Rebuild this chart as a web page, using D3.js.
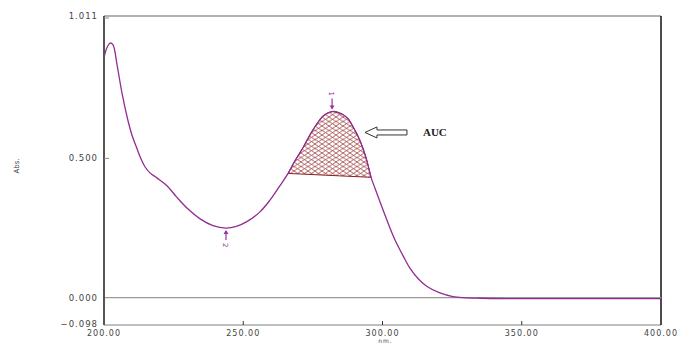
<!DOCTYPE html>
<html>
<head>
<meta charset="utf-8">
<script src="https://cdn.jsdelivr.net/npm/d3@7"></script>
<style>
  body { margin: 0; background: #fff; }
  svg { display: block; }
  .lbl { font-family: "DejaVu Sans", sans-serif; font-size: 8.5px; fill: #444; letter-spacing: 1px; }
</style>
</head>
<body>
<div id="chart"></div>
<script>
// spectrum
var wavelengths = [200, 201, 202.2, 203.2, 204.7, 206.5, 208.6, 210, 211.8, 213, 214.7, 216.5, 219, 222.6, 226.2, 230.2, 234.5, 239.1, 243.8, 247.5, 251.3, 256, 259.6, 263.2, 266.1, 268.5, 271.5, 274, 276.5, 279, 281.9, 284.5, 287.3, 289.5, 291.9, 294, 295.9, 297.3, 300, 302.5, 304.5, 307.4, 309.9, 313, 316, 320.6, 325.3, 329, 335, 345, 360, 380, 400];
var absorbance  = [0.861, 0.896, 0.914, 0.908, 0.835, 0.732, 0.636, 0.585, 0.536, 0.505, 0.470, 0.448, 0.430, 0.402, 0.360, 0.318, 0.283, 0.259, 0.250, 0.256, 0.273, 0.308, 0.350, 0.402, 0.446, 0.490, 0.539, 0.585, 0.625, 0.655, 0.668, 0.663, 0.646, 0.612, 0.564, 0.505, 0.432, 0.393, 0.320, 0.255, 0.207, 0.150, 0.105, 0.066, 0.040, 0.017, 0.004, 0.000, -0.002, -0.003, -0.003, -0.003, -0.003];

var yTicks = [-0.098, 0.000, 0.500, 1.011];
var xTicks = [200, 250, 300, 350, 400];
var aucRange = [266.1, 295.9];
var peakPoints = [{nm: 281.9, label: "1", up: false}, {nm: 243.8, label: "2", up: true}];

var width = 678, height = 343;
var margin = {top: 16, right: 17, bottom: 18, left: 104};

var svg = d3.select("#chart").append("svg")
  .attr("width", width)
  .attr("height", height);

var x = d3.scaleLinear().domain([200, 400]).range([margin.left, width - margin.right]);
var y = d3.scaleLinear().domain([-0.098, 1.011]).range([height - margin.bottom, margin.top]);

var data = wavelengths.map(function(w, i) { return {nm: w, a: absorbance[i]}; });

// hatch pattern
var defs = svg.append("defs");
var pat = defs.append("pattern")
  .attr("id", "hatch")
  .attr("patternUnits", "userSpaceOnUse")
  .attr("width", 7)
  .attr("height", 4.5);
pat.append("path")
  .attr("d", "M0,0 L7,4.5 M0,4.5 L7,0")
  .attr("stroke", "#8b1f1f")
  .attr("stroke-width", 0.7);

// frame
svg.append("line").attr("x1", x(200)).attr("x2", x(400)).attr("y1", y(1.011)).attr("y2", y(1.011))
  .attr("stroke", "#999").attr("stroke-width", 1.5);
svg.append("line").attr("x1", x(200)).attr("x2", x(400)).attr("y1", y(-0.098)).attr("y2", y(-0.098))
  .attr("stroke", "#aaa").attr("stroke-width", 1.5);
svg.append("line").attr("x1", x(400)).attr("x2", x(400)).attr("y1", y(1.011)).attr("y2", y(-0.098))
  .attr("stroke", "#111").attr("stroke-width", 1.5);
// zero line
svg.append("line").attr("x1", x(200)).attr("x2", x(400)).attr("y1", y(0)).attr("y2", y(0))
  .attr("stroke", "#999").attr("stroke-width", 1.3);

// AUC region
function interpA(nm) {
  var i = d3.bisector(function(d) { return d.nm; }).right(data, nm);
  var d0 = data[i - 1], d1 = data[i];
  return d0.a + (d1.a - d0.a) * (nm - d0.nm) / (d1.nm - d0.nm);
}
var area = [{nm: aucRange[0], a: interpA(aucRange[0])}]
  .concat(data.filter(function(d) { return d.nm > aucRange[0] && d.nm < aucRange[1]; }))
  .concat([{nm: aucRange[1], a: interpA(aucRange[1])}]);

var lineGen = d3.line()
  .x(function(d) { return x(d.nm); })
  .y(function(d) { return y(d.a); })
  .curve(d3.curveCatmullRom.alpha(0.5));

svg.append("path")
  .attr("d", lineGen(area) + "Z")
  .attr("fill", "url(#hatch)")
  .attr("stroke", "#8b1f1f")
  .attr("stroke-width", 1);

// spectrum
svg.append("path")
  .datum(data)
  .attr("d", lineGen)
  .attr("fill", "none")
  .attr("stroke", "#912c93")
  .attr("stroke-width", 1.3);

// left axis
svg.append("line").attr("x1", x(200)).attr("x2", x(200)).attr("y1", y(1.011)).attr("y2", y(-0.098))
  .attr("stroke", "#555").attr("stroke-width", 2);

yTicks.forEach(function(t) {
  if (t === 1.011 || t === 0.5) {
    svg.append("line").attr("x1", x(200)).attr("x2", x(200) + 5)
      .attr("y1", y(t) + (t === 1.011 ? 2 : 0)).attr("y2", y(t) + (t === 1.011 ? 2 : 0))
      .attr("stroke", "#888").attr("stroke-width", 1);
  }
  svg.append("text").attr("class", "lbl")
    .attr("x", x(200) - 6).attr("y", y(t) + (t < 0 ? 1.5 : 3))
    .attr("text-anchor", "end")
    .text(d3.format(".3f")(t));
});

xTicks.forEach(function(t) {
  if (t > 200 && t < 400) {
    svg.append("line").attr("x1", x(t)).attr("x2", x(t))
      .attr("y1", y(-0.098)).attr("y2", y(-0.098) - 4)
      .attr("stroke", "#333").attr("stroke-width", 1);
  }
  svg.append("text").attr("class", "lbl")
    .attr("x", x(t)).attr("y", 335.5)
    .attr("text-anchor", "middle")
    .style("font-size", "8px")
    .text(d3.format(".2f")(t));
});

svg.append("text").attr("class", "lbl")
  .attr("x", x(300) + 3).attr("y", 343)
  .attr("text-anchor", "middle")
  .style("font-size", "6px")
  .text("nm.");

svg.append("text").attr("class", "lbl")
  .attr("transform", "translate(19,166) rotate(-90)")
  .attr("text-anchor", "middle")
  .style("font-size", "7px")
  .style("letter-spacing", "0px")
  .text("Abs.");

// peak / valley markers
peakPoints.forEach(function(p) {
  var px = x(p.nm), py = y(interpA(p.nm));
  var g = svg.append("g").attr("stroke", "#9b2fa0").attr("fill", "#9b2fa0");
  if (p.up) {
    g.append("line").attr("x1", px).attr("x2", px).attr("y1", py + 12).attr("y2", py + 3).attr("stroke-width", 1.2);
    g.append("path").attr("d", "M" + (px - 2.5) + "," + (py + 6) + "L" + px + "," + (py + 2) + "L" + (px + 2.5) + "," + (py + 6) + "Z").attr("stroke", "none");
    svg.append("text").attr("transform", "translate(" + (px - 3) + "," + (py + 15) + ") rotate(90)")
      .style("font-family", "DejaVu Sans, sans-serif").style("font-size", "7px").attr("fill", "#9b2fa0")
      .text(p.label);
  } else {
    g.append("line").attr("x1", px).attr("x2", px).attr("y1", py - 13).attr("y2", py - 3).attr("stroke-width", 1.2);
    g.append("path").attr("d", "M" + (px - 2.5) + "," + (py - 6) + "L" + px + "," + (py - 2) + "L" + (px + 2.5) + "," + (py - 6) + "Z").attr("stroke", "none");
    svg.append("text").attr("transform", "translate(" + (px - 3) + "," + (py - 20) + ") rotate(90)")
      .style("font-family", "DejaVu Sans, sans-serif").style("font-size", "7px").attr("fill", "#9b2fa0")
      .text(p.label);
  }
});

// AUC arrow annotation
var ax = x(293.7), ay = y(0.593);
svg.append("path")
  .attr("d", "M" + ax + "," + ay +
    "L" + (ax + 12) + "," + (ay - 5.5) +
    "L" + (ax + 12) + "," + (ay - 2.5) +
    "L" + (ax + 42) + "," + (ay - 2.5) +
    "L" + (ax + 42) + "," + (ay + 2.5) +
    "L" + (ax + 12) + "," + (ay + 2.5) +
    "L" + (ax + 12) + "," + (ay + 5.5) + "Z")
  .attr("fill", "#fff")
  .attr("stroke", "#333")
  .attr("stroke-width", 1);

svg.append("text")
  .attr("x", ax + 58).attr("y", ay + 4)
  .style("font-family", "Liberation Serif, serif")
  .style("font-size", "11px")
  .style("font-weight", "bold")
  .attr("fill", "#222")
  .text("AUC");
</script>
</body>
</html>
